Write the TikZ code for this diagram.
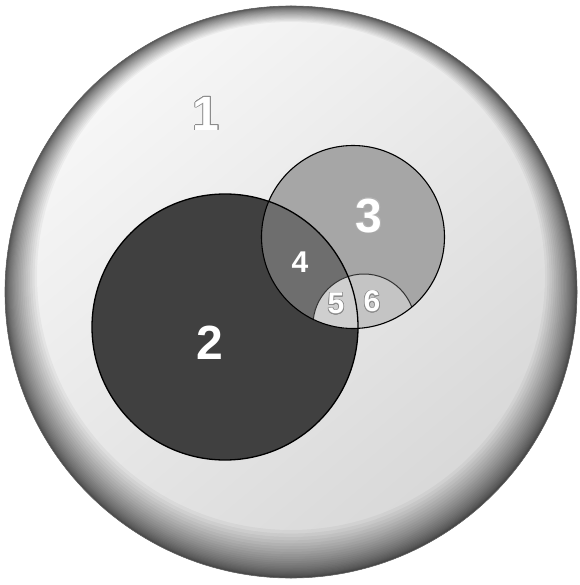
\documentclass[tikz,border=0pt]{standalone}
\usepackage{fontspec}
\setmainfont{Liberation Sans}
\usepackage{contour}
\contourlength{0.7pt}
\definecolor{ctwo}{gray}{0.25}
\definecolor{cthree}{gray}{0.65}
\definecolor{cfour}{gray}{0.43}
\definecolor{cfive}{gray}{0.81}
\definecolor{csix}{gray}{0.77}
\tikzset{
  biglbl/.style={inner sep=0pt, text=white, font=\bfseries\fontsize{48}{48}\selectfont},
  smalllbl/.style={inner sep=0pt, text=white, font=\bfseries\fontsize{30}{30}\selectfont},
  ring/.style={line width=1.1pt, draw=black}
}
\begin{document}
\begin{tikzpicture}[x=1pt,y=-1pt]
\useasboundingbox (0,0) rectangle (579,585);
% outer circle 1: base
\shade[top color=white!97!black, bottom color=white!84!black, shading angle=40] (291,292) circle (286pt);
% dark rim, wider at the bottom
\foreach \i in {1,...,30}{
  \pgfmathsetmacro\dd{32*(\i/30)^2.3}
  \pgfmathsetmacro\rr{286-\dd}
  \pgfmathsetmacro\yy{292-0.5*\dd}
  \fill[black, fill opacity=0.04, even odd rule] (291,292) circle (286pt) (291,\yy) circle (\rr pt);
}
\draw[black!60, line width=0.6pt] (291,292) circle (286pt);
% circle 2
\fill[ctwo] (225,327) circle (133pt);
% circle 3
\fill[cthree] (353,237) circle (91.5pt);
% region 4 : 2 and 3
\begin{scope}
  \clip (225,327) circle (133pt);
  \fill[cfour] (353,237) circle (91.5pt);
\end{scope}
% regions 5 and 6
\begin{scope}
  \clip (353,237) circle (91.5pt);
  \fill[csix] (364,325) circle (51pt);
  \begin{scope}
    \clip (225,327) circle (133pt);
    \fill[cfive] (364,325) circle (51pt);
  \end{scope}
  \draw[black!80, line width=1pt] (364,325) circle (51pt);
\end{scope}
% outlines
\draw[ring, line width=1.3pt] (225,327) circle (133pt);
\draw[ring] (353,237) circle (91.5pt);
% labels
\node[biglbl] (n1) at (206,114) {\contour{black!45}{1}};
\node[biglbl] (n2) at (210,343) {2};
\node[biglbl] (n3) at (369,216) {\contour{black!30}{3}};
\node[smalllbl] (n4) at (300,262) {4};
\node[smalllbl] (n5) at (336,304) {\contour{black!45}{5}};
\node[smalllbl] (n6) at (372,302) {\contour{black!45}{6}};
\end{tikzpicture}
\end{document}
